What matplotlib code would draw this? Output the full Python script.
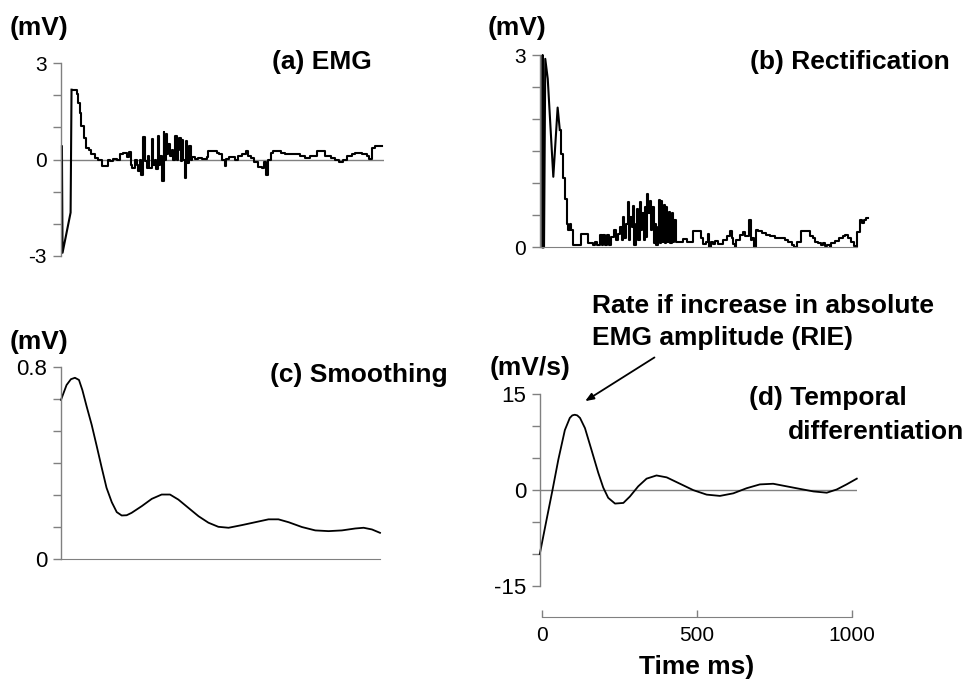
import numpy as np
import matplotlib
matplotlib.use("Agg")
import matplotlib.pyplot as plt

plt.rcParams["font.family"] = ["Liberation Sans", "DejaVu Sans"]

# =========================
# DATA
# =========================
# (a) raw EMG, mV: straight-line onset, then step trace
emg_head_t = [3, 3.5, 5, 31, 34]
emg_head_v = [0.41, -0.5, -2.9, -1.65, 2.17]
emg_t = [34, 53, 56,
         60, 66, 73, 81, 89, 97, 110, 120, 131, 151,
         158, 169, 180, 191, 201, 212, 220, 226, 230, 239,
         244, 250, 255, 258, 264, 266, 271, 277, 282, 285,
         293, 296, 302, 307, 312, 317, 321, 325, 331, 334,
         338, 342, 347, 352, 358, 363, 368, 373, 377, 381,
         386, 390, 395, 400, 403, 408, 414, 419, 424, 433,
         444, 455, 471, 476, 503, 510, 519, 528, 532, 541,
         562, 573, 584, 597, 603, 614, 624, 635, 648, 657,
         662, 670, 678, 686, 711, 724, 772, 788, 804, 826,
         851, 872, 885, 898, 912, 923, 939, 950, 971, 987,
         996, 1004, 1014, 1036]
emg_v = [2.17, 2.05, 1.77,
         1.46, 1.03, 0.67, 0.37, 0.31, 0.16, 0.05, 0.0, -0.19, 0.0,
         -0.05, 0.02, -0.03, 0.16, 0.2, 0.08, 0.23, -0.16, -0.26, 0.0,
         -0.16, -0.36, 0.0, -0.47, 0.05, 0.70, -0.05, -0.26, 0.1, -0.26,
         0.64, -0.16, 0.0, -0.31, 0.74, -0.16, 0.1, -0.67, 0.85, 0.0,
         0.78, 0.16, 0.47, 0.1, 0.31, 0.0, 0.72, 0.0, 0.31, 0.67,
         -0.05, 0.62, 0.0, -0.57, 0.57, -0.1, 0.41, 0.0, 0.08, 0.02,
         0.05, 0.02, 0.08, 0.26, 0.2, 0.16, 0.0, -0.21, 0.02, 0.08,
         0.0, 0.12, 0.18, 0.26, 0.12, 0.05, -0.08, -0.24, -0.26, -0.08,
         -0.47, 0.0, 0.2, 0.26, 0.2, 0.18, 0.12, 0.05, 0.1, 0.26,
         0.12, 0.05, -0.02, -0.08, 0.0, 0.1, 0.16, 0.2, 0.16, 0.1,
         0.02, 0.36, 0.43, 0.43]

# (b) rectified EMG, mV: straight-line onset, then step trace
rect_head_t = [8, 8.6, 9.4, 13, 17, 25, 43, 57, 64]
rect_head_v = [0.0, 3.0, 0.0, 0.0, 2.94, 2.63, 1.10, 2.18, 1.83]
rect_t = [64, 68, 74, 82, 87, 92, 96, 100, 106, 132,
          156, 172,
          178, 183, 194, 199, 205, 210, 215, 223, 231, 240,
          244, 251, 258, 264, 269, 272, 277, 283, 287, 292,
          296, 302, 305, 309, 313, 318, 323, 326, 331, 335,
          339, 342, 346, 350, 354, 359, 363, 367, 372, 376,
          380, 384, 388, 391, 395, 400, 404, 408, 412, 417,
          421, 425, 430, 434, 438, 463, 474, 495, 520, 528,
          538, 544, 547, 552, 560, 565, 576, 592, 603, 614,
          619, 625, 630, 635, 646, 657, 664, 676, 682, 686,
          691, 697, 705, 716, 729, 743, 759, 791, 802, 813,
          821, 829, 843, 872, 883, 890, 899, 908, 915, 921,
          929, 937, 942, 953, 966, 980, 985, 994, 1005, 1015,
          1022, 1026, 1034, 1039, 1048, 1055, 1059]
rect_v = [1.83, 1.46, 1.08, 0.76, 0.37, 0.27, 0.37, 0.27, 0.04, 0.20,
          0.06, 0.03,
          0.08, 0.03, 0.19, 0.03, 0.19, 0.03, 0.19, 0.03, 0.16, 0.27,
          0.11, 0.21, 0.32, 0.11, 0.47, 0.14, 0.37, 0.71, 0.11, 0.47,
          0.32, 0.64, 0.03, 0.37, 0.59, 0.11, 0.71, 0.27, 0.53, 0.11,
          0.63, 0.16, 0.83, 0.53, 0.73, 0.27, 0.63, 0.06, 0.37, 0.03,
          0.32, 0.74, 0.06, 0.73, 0.08, 0.66, 0.06, 0.63, 0.08, 0.55,
          0.07, 0.53, 0.08, 0.42, 0.08, 0.13, 0.08, 0.25, 0.14, 0.05,
          0.09, 0.21, 0.01, 0.09, 0.05, 0.10, 0.05, 0.11, 0.17, 0.26,
          0.14, 0.05, 0.0, 0.11, 0.19, 0.24, 0.17, 0.43, 0.11, 0.14,
          0.0, 0.27, 0.26, 0.22, 0.19, 0.17, 0.14, 0.11, 0.09, 0.04,
          0.0, 0.09, 0.26, 0.17, 0.14, 0.09, 0.07, 0.04, 0.06, 0.02,
          0.04, 0.01, 0.06, 0.10, 0.14, 0.17, 0.19, 0.14, 0.09, 0.02,
          0.0, 0.24, 0.43, 0.38, 0.42, 0.45, 0.45]

# (c) smoothed EMG, mV
smooth_t = [0, 4, 18, 32, 45, 58, 69, 83, 99, 115,
            131, 147, 164, 180, 196, 212, 228, 261, 293, 325,
            352, 379, 411, 444, 476, 508, 541, 584, 627, 670,
            702, 735, 778, 821, 864, 907, 950, 977, 1004, 1030]
smooth_v = [0.662, 0.676, 0.724, 0.748, 0.754, 0.745, 0.703, 0.634, 0.559, 0.472,
            0.383, 0.297, 0.237, 0.196, 0.182, 0.183, 0.193, 0.221, 0.251, 0.269,
            0.269, 0.248, 0.214, 0.179, 0.152, 0.135, 0.131, 0.142, 0.154, 0.166,
            0.166, 0.154, 0.134, 0.120, 0.117, 0.120, 0.128, 0.131, 0.124, 0.110]

# (d) temporal derivative, mV/s
diff_t = [-8, 14, 33, 52, 73, 89, 97, 105, 113, 122, 138, 159,
          181, 197, 213, 235, 262, 283, 310, 337, 369, 402,
          445, 488, 531, 574, 617, 660, 703, 746, 789, 832,
          876, 919, 951, 983, 1016]
diff_v = [-10.0, -4.6, 0.0, 4.8, 9.4, 11.3, 11.7, 11.8, 11.7, 11.3, 9.7, 6.3,
          2.7, 0.4, -1.2, -2.1, -2.0, -1.0, 0.6, 1.8, 2.3, 2.0,
          1.0, 0.0, -0.7, -0.9, -0.5, 0.3, 0.9, 1.0, 0.6, 0.2,
          -0.2, -0.4, 0.1, 0.9, 1.8]

# tick labels
emg_ticks = [-3, -2, -1, 0, 1, 2, 3]
emg_labels = ["-3", "", "", "0", "", "", "3"]
rect_ticks = [0, 0.5, 1, 1.5, 2, 2.5, 3]
rect_labels = ["0", "", "", "", "", "", "3"]
smooth_ticks = [0, 0.8 / 6, 1.6 / 6, 2.4 / 6, 3.2 / 6, 4.0 / 6, 0.8]
smooth_labels = ["0", "", "", "", "", "", "0.8"]
diff_ticks = [-15, -10, -5, 0, 5, 10, 15]
diff_labels = ["-15", "", "", "0", "", "", "15"]
time_ticks = [0, 500, 1000]
time_labels = ["0", "500", "1000"]

W, H = 977, 683
GRAY = "#808080"
BOLD = 19

fig = plt.figure(figsize=(W / 100, H / 100), dpi=100)


def px_axes(left, top, right, bottom):
    return fig.add_axes([left / W, 1 - bottom / H, (right - left) / W, (bottom - top) / H])


def style_y(ax, ticks, labels, size):
    for s in ["top", "right", "bottom"]:
        ax.spines[s].set_visible(False)
    ax.spines["left"].set_color(GRAY)
    ax.spines["left"].set_linewidth(1.0)
    ax.set_yticks(ticks)
    ax.set_yticklabels(labels, fontsize=size)
    ax.tick_params(axis="y", length=5.5, width=1.0, color=GRAY, pad=4.5)
    ax.set_xticks([])
    ax.patch.set_alpha(0)


def ftext(x, y, s, **kw):
    fig.text(x / W, 1 - y / H, s, fontweight="bold", fontsize=BOLD, va="center", **kw)


# =========================
# (a) EMG
# =========================
ax = px_axes(61, 63, 384, 256)
ax.set_xlim(0, 1043)
ax.set_ylim(-3, 3)
ax.axhline(0, color=GRAY, lw=1.0)
ax.plot(emg_head_t, emg_head_v, color="black", lw=1.5, clip_on=False)
ax.step(emg_t, emg_v, where="post", color="black", lw=1.5, clip_on=False)
style_y(ax, emg_ticks, emg_labels, 15)

# =========================
# (b) Rectification
# =========================
ax = px_axes(540, 55, 868, 247.3)
ax.set_xlim(0, 1060)
ax.set_ylim(0, 3)
ax.plot(rect_head_t, rect_head_v, color="black", lw=1.5, clip_on=False)
ax.step(rect_t, rect_v, where="post", color="black", lw=1.5, clip_on=False)
style_y(ax, rect_ticks, rect_labels, 15)
ax.spines["bottom"].set_visible(True)
ax.spines["bottom"].set_color(GRAY)
ax.spines["bottom"].set_bounds(0, 1024)

# =========================
# (c) Smoothing
# =========================
ax = px_axes(61, 366.7, 380, 559.3)
ax.set_xlim(0, 1030)
ax.set_ylim(0, 0.8)
ax.plot(smooth_t, smooth_v, color="black", lw=1.3, clip_on=False,
        solid_joinstyle="round")
style_y(ax, smooth_ticks, smooth_labels, 16)
ax.spines["bottom"].set_visible(True)
ax.spines["bottom"].set_color(GRAY)

# =========================
# (d) Temporal differentiation
# =========================
ax = px_axes(540, 394.3, 857.4, 586)
ax.set_xlim(-7.3, 1018)
ax.set_ylim(-15, 15)
ax.axhline(0, color=GRAY, lw=1.0)
ax.plot(diff_t, diff_v, color="black", lw=1.3, clip_on=False,
        solid_joinstyle="round")
style_y(ax, diff_ticks, diff_labels, 16)
ax.spines["bottom"].set_visible(True)
ax.spines["bottom"].set_color(GRAY)
ax.spines["bottom"].set_position(("outward", 22))
ax.spines["bottom"].set_bounds(0, 1000)
ax.set_xticks(time_ticks)
ax.set_xticklabels(time_labels, fontsize=15)
ax.tick_params(axis="x", direction="in", length=5, width=1.0, color=GRAY, pad=7)
ax.annotate("", xy=(131, 13.7), xytext=(370, 21.0), annotation_clip=False,
            arrowprops=dict(arrowstyle="-|>,head_length=0.5,head_width=0.2",
                            color="black", lw=1.3))

# =========================
# TEXT
# =========================
ftext(10, 28, "(mV)")
ftext(272, 62, "(a) EMG")
ftext(488, 28, "(mV)")
ftext(750, 62, "(b) Rectification")
ftext(10, 342, "(mV)")
ftext(270, 375, "(c) Smoothing")
ftext(592, 306, "Rate if increase in absolute")
ftext(592, 338, "EMG amplitude (RIE)")
ftext(490, 368, "(mV/s)")
ftext(749, 398, "(d) Temporal")
ftext(788, 432, "differentiation")
ftext(697, 667, "Time ms)", ha="center")

fig.savefig("out.png", dpi=100)
